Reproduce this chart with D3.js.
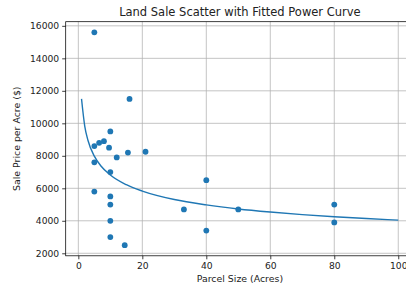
<!DOCTYPE html>
<html>
<head>
<meta charset="utf-8">
<script src="https://cdn.jsdelivr.net/npm/d3@7"></script>
<style>
  body { margin: 0; background: #fff; }
  svg { display: block; font-family: "DejaVu Sans", sans-serif; }
</style>
</head>
<body>
<div id="chart-area"></div>
<script>
// scatter points
var acres = [5, 16, 10, 5, 6.5, 8, 9.6, 12, 15.5, 21, 5, 10, 5, 10, 10, 10, 10, 14.5, 40, 33, 50, 40, 80, 80];
var prices = [15600, 11500, 9500, 8600, 8800, 8900, 8500, 7900, 8200, 8250, 7600, 7000, 5800, 5500, 5000, 4000, 3000, 2500, 6500, 4700, 4700, 3400, 5000, 3900];

// fitted curve
var curveX = [1, 2, 3, 5, 7, 10, 15, 20, 30, 40, 50, 60, 70, 80, 90, 100];
var curveY = [11500, 9830, 8960, 7980, 7390, 6820, 6220, 5830, 5310, 4980, 4730, 4540, 4380, 4250, 4140, 4040];

var xTicks = [0, 20, 40, 60, 80, 100];
var yTicks = [2000, 4000, 6000, 8000, 10000, 12000, 14000, 16000];

var W = 406, H = 285;
var margin = { left: 65.7, top: 21.7 },
    width = 348.4,
    height = 234.1;

var svg = d3.select("#chart-area").append("svg")
    .attr("width", W)
    .attr("height", H);

var g = svg.append("g")
    .attr("transform", "translate(" + margin.left + "," + margin.top + ")");

var x = d3.scaleLinear().domain([-3.95, 104.95]).range([0, width]);
var y = d3.scaleLinear().domain([1845, 16255]).range([height, 0]);

// grid
g.append("g").selectAll("line")
    .data(xTicks).enter().append("line")
    .attr("x1", function(d) { return x(d); })
    .attr("x2", function(d) { return x(d); })
    .attr("y1", 0).attr("y2", height)
    .attr("stroke", "#b0b0b0").attr("stroke-width", 0.75);

g.append("g").selectAll("line")
    .data(yTicks).enter().append("line")
    .attr("x1", 0).attr("x2", width)
    .attr("y1", function(d) { return y(d); })
    .attr("y2", function(d) { return y(d); })
    .attr("stroke", "#b0b0b0").attr("stroke-width", 0.75);

// axes
var xAxis = g.append("g")
    .attr("transform", "translate(0," + height + ")")
    .call(d3.axisBottom(x).tickValues(xTicks).tickSize(3.5).tickPadding(3).tickFormat(d3.format("d")));

var yAxis = g.append("g")
    .call(d3.axisLeft(y).tickValues(yTicks).tickSize(3.5).tickPadding(3).tickFormat(d3.format("d")));

[xAxis, yAxis].forEach(function(a) {
    a.select(".domain").remove();
    a.selectAll("line").attr("stroke", "#000").attr("stroke-width", 0.75);
    a.selectAll("text")
        .attr("font-family", "DejaVu Sans, sans-serif")
        .attr("font-size", 9.2)
        .attr("fill", "#222");
});

// frame
g.append("rect")
    .attr("width", width).attr("height", height)
    .attr("fill", "none")
    .attr("stroke", "#000").attr("stroke-width", 0.75);

// fitted line
var line = d3.line()
    .x(function(d) { return x(d[0]); })
    .y(function(d) { return y(d[1]); })
    .curve(d3.curveMonotoneX);

g.append("path")
    .datum(d3.zip(curveX, curveY))
    .attr("d", line)
    .attr("fill", "none")
    .attr("stroke", "#1f77b4")
    .attr("stroke-width", 1.4);

// points
g.append("g").selectAll("circle")
    .data(d3.zip(acres, prices)).enter().append("circle")
    .attr("cx", function(d) { return x(d[0]); })
    .attr("cy", function(d) { return y(d[1]); })
    .attr("r", 2.9)
    .attr("fill", "#1f77b4");

// labels
svg.append("text")
    .attr("x", margin.left + width / 2)
    .attr("y", 15.5)
    .attr("text-anchor", "middle")
    .attr("font-size", 11.5)
    .attr("fill", "#222")
    .text("Land Sale Scatter with Fitted Power Curve");

svg.append("text")
    .attr("x", margin.left + width / 2)
    .attr("y", 282)
    .attr("text-anchor", "middle")
    .attr("font-size", 9.4)
    .attr("fill", "#222")
    .text("Parcel Size (Acres)");

svg.append("text")
    .attr("transform", "translate(20," + (margin.top + height / 2) + ") rotate(-90)")
    .attr("text-anchor", "middle")
    .attr("font-size", 9.4)
    .attr("fill", "#222")
    .text("Sale Price per Acre ($)");
</script>
</body>
</html>
